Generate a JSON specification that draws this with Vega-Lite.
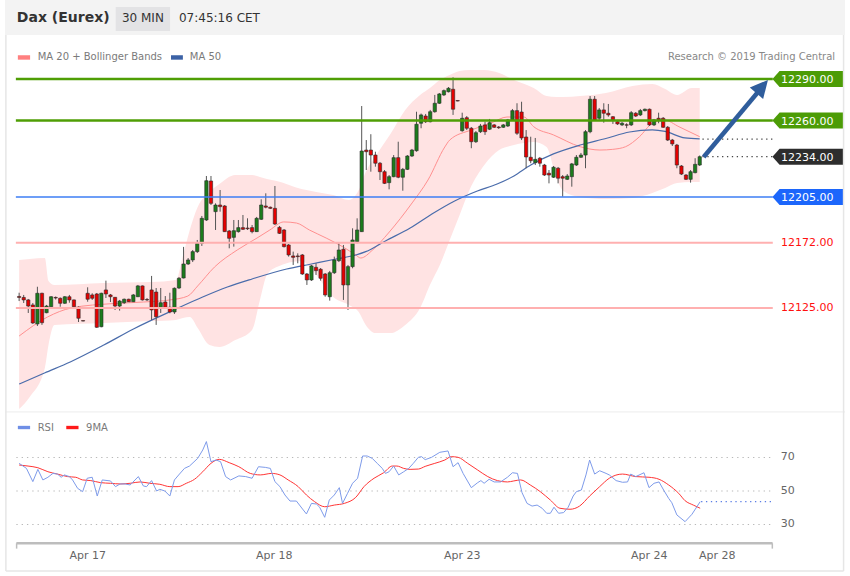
{
"$schema": "https://vega.github.io/schema/vega-lite/v6.json",
"width": 850, "height": 576,
"autosize": {"type": "fit", "contains": "padding"},
"padding": 0,
"background": "#ffffff",
"config": {"font": "DejaVu Sans", "view": {"stroke": null}},
"datasets": {
"one": [{}],
"candles": [
{"i":0,"o":12133.3,"h":12136.0,"l":12130.0,"c":12132.6},
{"i":1,"o":12132.6,"h":12134.4,"l":12128.6,"c":12130.8},
{"i":2,"o":12130.8,"h":12131.5,"l":12121.4,"c":12126.4},
{"i":3,"o":12127.2,"h":12128.6,"l":12113.5,"c":12114.2},
{"i":4,"o":12113.5,"h":12140.3,"l":12112.0,"c":12135.6},
{"i":5,"o":12135.6,"h":12136.0,"l":12112.8,"c":12114.4},
{"i":6,"o":12121.6,"h":12127.2,"l":12121.2,"c":12126.4},
{"i":7,"o":12125.9,"h":12133.6,"l":12125.7,"c":12133.1},
{"i":8,"o":12132.6,"h":12133.3,"l":12131.1,"c":12132.2},
{"i":9,"o":12132.0,"h":12132.6,"l":12125.9,"c":12128.4},
{"i":10,"o":12128.4,"h":12133.6,"l":12127.9,"c":12133.1},
{"i":11,"o":12133.1,"h":12134.4,"l":12128.8,"c":12130.8},
{"i":12,"o":12130.8,"h":12131.1,"l":12124.5,"c":12125.9},
{"i":13,"o":12125.5,"h":12126.1,"l":12114.9,"c":12117.6},
{"i":14,"o":12115.9,"h":12116.0,"l":12115.4,"c":12115.6},
{"i":15,"o":12135.6,"h":12139.9,"l":12129.5,"c":12131.3},
{"i":16,"o":12134.4,"h":12135.6,"l":12130.8,"c":12132.0},
{"i":17,"o":12135.1,"h":12135.8,"l":12110.6,"c":12111.1},
{"i":18,"o":12111.5,"h":12136.0,"l":12111.1,"c":12135.6},
{"i":19,"o":12138.0,"h":12144.7,"l":12132.2,"c":12135.1},
{"i":20,"o":12134.4,"h":12135.1,"l":12129.3,"c":12133.1},
{"i":21,"o":12132.7,"h":12132.9,"l":12123.6,"c":12126.4},
{"i":22,"o":12126.4,"h":12130.8,"l":12123.1,"c":12130.0},
{"i":23,"o":12128.8,"h":12131.8,"l":12127.9,"c":12131.3},
{"i":24,"o":12131.3,"h":12131.7,"l":12129.3,"c":12129.5},
{"i":25,"o":12129.5,"h":12135.1,"l":12129.3,"c":12134.4},
{"i":26,"o":12133.1,"h":12141.6,"l":12132.9,"c":12140.9},
{"i":27,"o":12140.9,"h":12141.2,"l":12130.4,"c":12130.8},
{"i":28,"o":12131.1,"h":12132.2,"l":12130.0,"c":12130.8},
{"i":29,"o":12138.0,"h":12148.1,"l":12116.4,"c":12123.6},
{"i":30,"o":12136.5,"h":12139.4,"l":12112.8,"c":12118.7},
{"i":31,"o":12125.0,"h":12139.4,"l":12121.4,"c":12128.8},
{"i":32,"o":12129.3,"h":12133.6,"l":12124.3,"c":12125.4},
{"i":33,"o":12125.5,"h":12136.0,"l":12121.2,"c":12122.1},
{"i":34,"o":12122.1,"h":12139.8,"l":12120.7,"c":12139.2},
{"i":35,"o":12139.4,"h":12147.3,"l":12138.7,"c":12146.4},
{"i":36,"o":12146.6,"h":12169.0,"l":12146.3,"c":12156.7},
{"i":37,"o":12156.7,"h":12161.0,"l":12156.0,"c":12159.6},
{"i":38,"o":12159.6,"h":12166.8,"l":12158.1,"c":12165.6},
{"i":39,"o":12165.6,"h":12174.0,"l":12164.6,"c":12171.6},
{"i":40,"o":12171.6,"h":12191.3,"l":12169.7,"c":12189.6},
{"i":41,"o":12188.4,"h":12220.1,"l":12187.7,"c":12216.7},
{"i":42,"o":12216.5,"h":12220.1,"l":12199.2,"c":12200.4},
{"i":43,"o":12194.4,"h":12200.4,"l":12181.2,"c":12199.2},
{"i":44,"o":12199.2,"h":12210.0,"l":12194.4,"c":12198.0},
{"i":45,"o":12198.5,"h":12199.2,"l":12179.8,"c":12180.0},
{"i":46,"o":12180.5,"h":12181.2,"l":12168.0,"c":12175.2},
{"i":47,"o":12175.9,"h":12188.4,"l":12169.2,"c":12180.7},
{"i":48,"o":12180.0,"h":12188.4,"l":12179.3,"c":12182.9},
{"i":49,"o":12182.9,"h":12192.0,"l":12181.2,"c":12181.7},
{"i":50,"o":12182.6,"h":12189.6,"l":12181.2,"c":12182.1},
{"i":51,"o":12182.9,"h":12184.8,"l":12178.8,"c":12180.0},
{"i":52,"o":12180.0,"h":12190.6,"l":12179.8,"c":12189.6},
{"i":53,"o":12188.9,"h":12203.3,"l":12188.4,"c":12199.2},
{"i":54,"o":12198.5,"h":12207.6,"l":12196.8,"c":12197.6},
{"i":55,"o":12197.6,"h":12198.1,"l":12196.3,"c":12196.8},
{"i":56,"o":12196.8,"h":12212.9,"l":12184.8,"c":12185.5},
{"i":57,"o":12183.1,"h":12184.1,"l":12178.3,"c":12178.8},
{"i":58,"o":12181.2,"h":12181.9,"l":12168.6,"c":12169.2},
{"i":59,"o":12170.4,"h":12171.1,"l":12162.0,"c":12163.2},
{"i":60,"o":12162.5,"h":12165.6,"l":12156.0,"c":12161.5},
{"i":61,"o":12162.5,"h":12164.4,"l":12157.2,"c":12162.0},
{"i":62,"o":12163.2,"h":12163.9,"l":12148.8,"c":12149.5},
{"i":63,"o":12149.5,"h":12150.2,"l":12141.6,"c":12145.2},
{"i":64,"o":12145.2,"h":12156.0,"l":12144.5,"c":12155.3},
{"i":65,"o":12154.3,"h":12157.2,"l":12148.8,"c":12151.9},
{"i":66,"o":12152.9,"h":12153.8,"l":12144.7,"c":12146.4},
{"i":67,"o":12149.5,"h":12150.2,"l":12133.1,"c":12134.4},
{"i":68,"o":12133.1,"h":12151.7,"l":12130.3,"c":12150.4},
{"i":69,"o":12150.4,"h":12162.0,"l":12149.5,"c":12159.6},
{"i":70,"o":12159.1,"h":12171.6,"l":12158.1,"c":12166.8},
{"i":71,"o":12167.3,"h":12170.4,"l":12130.8,"c":12141.6},
{"i":72,"o":12141.6,"h":12156.0,"l":12123.6,"c":12154.8},
{"i":73,"o":12154.8,"h":12182.4,"l":12153.6,"c":12174.0},
{"i":74,"o":12172.8,"h":12189.6,"l":12171.6,"c":12181.2},
{"i":75,"o":12180.0,"h":12270.5,"l":12179.8,"c":12238.1},
{"i":76,"o":12238.8,"h":12246.0,"l":12224.4,"c":12237.6},
{"i":77,"o":12238.8,"h":12250.2,"l":12223.2,"c":12235.2},
{"i":78,"o":12235.2,"h":12237.6,"l":12226.8,"c":12229.3},
{"i":79,"o":12229.3,"h":12230.2,"l":12217.2,"c":12223.2},
{"i":80,"o":12223.2,"h":12224.4,"l":12214.3,"c":12214.8},
{"i":81,"o":12215.3,"h":12220.8,"l":12210.5,"c":12219.6},
{"i":82,"o":12219.6,"h":12235.2,"l":12219.2,"c":12233.3},
{"i":83,"o":12233.3,"h":12244.8,"l":12218.5,"c":12219.2},
{"i":84,"o":12219.2,"h":12225.9,"l":12209.5,"c":12224.9},
{"i":85,"o":12224.9,"h":12235.2,"l":12224.4,"c":12234.5},
{"i":86,"o":12234.5,"h":12239.6,"l":12233.8,"c":12238.8},
{"i":87,"o":12238.3,"h":12266.4,"l":12237.6,"c":12257.4},
{"i":88,"o":12258.1,"h":12265.1,"l":12254.5,"c":12264.1},
{"i":89,"o":12263.3,"h":12264.8,"l":12258.3,"c":12259.2},
{"i":90,"o":12259.2,"h":12267.7,"l":12258.7,"c":12266.4},
{"i":91,"o":12266.4,"h":12278.5,"l":12265.7,"c":12272.5},
{"i":92,"o":12272.5,"h":12279.9,"l":12272.0,"c":12279.2},
{"i":93,"o":12278.5,"h":12282.4,"l":12277.7,"c":12281.6},
{"i":94,"o":12280.8,"h":12284.2,"l":12280.3,"c":12283.3},
{"i":95,"o":12282.6,"h":12291.2,"l":12264.1,"c":12268.2},
{"i":96,"o":12274.5,"h":12274.6,"l":12273.9,"c":12274.1},
{"i":97,"o":12252.7,"h":12265.7,"l":12252.0,"c":12261.7},
{"i":98,"o":12262.1,"h":12263.3,"l":12253.2,"c":12254.5},
{"i":99,"o":12254.5,"h":12255.4,"l":12240.1,"c":12244.8},
{"i":100,"o":12244.8,"h":12252.5,"l":12243.9,"c":12251.3},
{"i":101,"o":12252.0,"h":12257.6,"l":12251.1,"c":12256.1},
{"i":102,"o":12256.9,"h":12259.2,"l":12249.7,"c":12252.0},
{"i":103,"o":12253.8,"h":12261.2,"l":12253.2,"c":12258.5},
{"i":104,"o":12256.9,"h":12257.6,"l":12254.7,"c":12255.2},
{"i":105,"o":12255.4,"h":12256.1,"l":12254.0,"c":12254.9},
{"i":106,"o":12255.2,"h":12257.6,"l":12254.7,"c":12256.9},
{"i":107,"o":12256.1,"h":12261.2,"l":12255.4,"c":12260.5},
{"i":108,"o":12260.5,"h":12268.4,"l":12259.7,"c":12267.2},
{"i":109,"o":12267.2,"h":12272.5,"l":12249.7,"c":12250.9},
{"i":110,"o":12266.2,"h":12273.6,"l":12246.0,"c":12247.5},
{"i":111,"o":12248.2,"h":12253.2,"l":12225.7,"c":12233.8},
{"i":112,"o":12233.6,"h":12248.4,"l":12229.3,"c":12231.1},
{"i":113,"o":12229.7,"h":12247.5,"l":12228.0,"c":12232.1},
{"i":114,"o":12232.9,"h":12233.8,"l":12226.8,"c":12229.3},
{"i":115,"o":12228.0,"h":12228.8,"l":12220.1,"c":12220.8},
{"i":116,"o":12222.1,"h":12224.4,"l":12214.8,"c":12220.8},
{"i":117,"o":12219.2,"h":12227.3,"l":12218.7,"c":12226.4},
{"i":118,"o":12225.7,"h":12226.6,"l":12214.8,"c":12218.5},
{"i":119,"o":12219.6,"h":12220.8,"l":12205.2,"c":12218.5},
{"i":120,"o":12217.7,"h":12221.5,"l":12217.2,"c":12220.1},
{"i":121,"o":12219.6,"h":12229.5,"l":12212.4,"c":12228.8},
{"i":122,"o":12228.0,"h":12235.2,"l":12227.3,"c":12233.6},
{"i":123,"o":12233.6,"h":12236.7,"l":12233.1,"c":12235.2},
{"i":124,"o":12235.2,"h":12253.2,"l":12225.7,"c":12252.0},
{"i":125,"o":12252.0,"h":12277.7,"l":12250.9,"c":12275.4},
{"i":126,"o":12275.4,"h":12277.7,"l":12259.7,"c":12260.5},
{"i":127,"o":12261.7,"h":12269.1,"l":12260.5,"c":12267.7},
{"i":128,"o":12267.7,"h":12272.5,"l":12258.5,"c":12265.3},
{"i":129,"o":12265.3,"h":12272.0,"l":12262.8,"c":12264.1},
{"i":130,"o":12262.8,"h":12263.3,"l":12257.6,"c":12260.5},
{"i":131,"o":12259.2,"h":12260.5,"l":12256.9,"c":12257.6},
{"i":132,"o":12256.9,"h":12259.0,"l":12256.1,"c":12258.1},
{"i":133,"o":12257.0,"h":12258.1,"l":12254.5,"c":12256.7},
{"i":134,"o":12256.9,"h":12266.9,"l":12256.1,"c":12265.7},
{"i":135,"o":12265.3,"h":12266.2,"l":12262.6,"c":12263.3},
{"i":136,"o":12264.1,"h":12268.4,"l":12263.3,"c":12267.2},
{"i":137,"o":12267.2,"h":12268.7,"l":12266.6,"c":12268.2},
{"i":138,"o":12268.2,"h":12268.7,"l":12256.1,"c":12256.9},
{"i":139,"o":12256.9,"h":12261.2,"l":12256.1,"c":12260.5},
{"i":140,"o":12261.7,"h":12265.7,"l":12258.1,"c":12260.5},
{"i":141,"o":12261.7,"h":12262.6,"l":12254.7,"c":12255.2},
{"i":142,"o":12255.2,"h":12256.1,"l":12245.3,"c":12246.0},
{"i":143,"o":12246.0,"h":12246.8,"l":12241.7,"c":12243.2},
{"i":144,"o":12242.4,"h":12243.2,"l":12225.7,"c":12228.0},
{"i":145,"o":12227.3,"h":12228.0,"l":12220.8,"c":12221.5},
{"i":146,"o":12220.8,"h":12221.5,"l":12217.2,"c":12217.7},
{"i":147,"o":12217.7,"h":12224.4,"l":12215.3,"c":12223.2},
{"i":148,"o":12222.5,"h":12232.9,"l":12222.0,"c":12228.5},
{"i":149,"o":12228.0,"h":12234.9,"l":12227.3,"c":12234.0}
],
"band": [
{"i":0,"up":12159.6,"lo":12052.2},{"i":2.32,"up":12160.3,"lo":12060.9},{"i":5.63,"up":12161.0,"lo":12081.8},
{"i":6.43,"up":12144.5,"lo":12098.3},{"i":7.72,"up":12141.6,"lo":12112.8},{"i":18.54,"up":12143.0,"lo":12114.2},
{"i":28.93,"up":12143.7,"lo":12115.6},{"i":34.34,"up":12145.2,"lo":12116.4},{"i":35.85,"up":12162.5,"lo":12117.8},
{"i":37.36,"up":12181.2,"lo":12118.5},{"i":39.09,"up":12197.8,"lo":12110.6},{"i":41.69,"up":12208.6,"lo":12098.3},
{"i":43.85,"up":12214.3,"lo":12096.9},{"i":47.32,"up":12220.8,"lo":12101.9},{"i":50.99,"up":12220.8,"lo":12109.2},
{"i":52.72,"up":12219.4,"lo":12130.8},{"i":54.24,"up":12218.0,"lo":12148.8},{"i":56.4,"up":12216.5,"lo":12154.5},
{"i":61.81,"up":12210.7,"lo":12158.9},{"i":65.06,"up":12208.6,"lo":12148.8},{"i":68.74,"up":12206.4,"lo":12132.9},
{"i":72.2,"up":12202.8,"lo":12127.2},{"i":74.36,"up":12210.0,"lo":12122.1},{"i":75.88,"up":12223.0,"lo":12112.8},
{"i":78.04,"up":12234.5,"lo":12107.0},{"i":81.29,"up":12250.4,"lo":12107.0},{"i":84.53,"up":12267.7,"lo":12112.8},
{"i":87.78,"up":12278.5,"lo":12125.0},{"i":89.94,"up":12283.5,"lo":12141.6},{"i":92.11,"up":12289.3,"lo":12156.0},
{"i":94.27,"up":12292.9,"lo":12174.0},{"i":96.44,"up":12295.8,"lo":12192.0},{"i":98.6,"up":12296.5,"lo":12210.0},
{"i":101.84,"up":12296.5,"lo":12228.0},{"i":105.09,"up":12294.3,"lo":12238.8},{"i":108.33,"up":12289.3,"lo":12242.4},
{"i":112.66,"up":12283.5,"lo":12244.6},{"i":115.47,"up":12277.7,"lo":12241.0},{"i":117.64,"up":12277.0,"lo":12218.7},
{"i":119.15,"up":12277.0,"lo":12209.3},{"i":122.83,"up":12277.7,"lo":12205.0},{"i":128.46,"up":12279.9,"lo":12203.5},
{"i":134.3,"up":12285.0,"lo":12204.3},{"i":138.62,"up":12286.4,"lo":12207.9},{"i":141.44,"up":12282.8,"lo":12211.5},
{"i":144.04,"up":12278.5,"lo":12215.1},{"i":147.28,"up":12283.5,"lo":12215.8},{"i":149,"up":12283.5,"lo":12215.8}
],
"ma20": [
{"i":0,"v":12104.8},{"i":6.21,"v":12118.5},{"i":11.4,"v":12125.0},{"i":20.7,"v":12128.2},{"i":27.2,"v":12129.3},
{"i":33.04,"v":12130.8},{"i":36.93,"v":12133.6},{"i":39.1,"v":12140.9},{"i":42.77,"v":12154.5},{"i":47.75,"v":12166.8},
{"i":52.08,"v":12175.4},{"i":54.89,"v":12181.2},{"i":57.92,"v":12187.0},{"i":60.73,"v":12186.2},{"i":63.54,"v":12181.2},
{"i":67.22,"v":12175.4},{"i":70.9,"v":12169.0},{"i":73.71,"v":12163.2},{"i":74.79,"v":12161.0},{"i":77.39,"v":12166.8},
{"i":80.85,"v":12179.0},{"i":86.04,"v":12200.7},{"i":89.51,"v":12217.2},{"i":93.19,"v":12241.0},{"i":94.27,"v":12246.0},
{"i":99.03,"v":12253.3},{"i":103.36,"v":12258.3},{"i":106.82,"v":12262.6},{"i":110.5,"v":12262.6},{"i":112.66,"v":12255.6},
{"i":116.98,"v":12249.7},{"i":122.83,"v":12241.2},{"i":127.15,"v":12238.8},{"i":129.96,"v":12239.3},{"i":132.78,"v":12241.2},
{"i":135.81,"v":12248.4},{"i":138.62,"v":12258.1},{"i":141.21,"v":12260.5},{"i":144.46,"v":12255.6},{"i":149,"v":12248.4}
],
"ma50": [
{"i":0,"v":12070.2},{"i":5.56,"v":12078.2},{"i":11.19,"v":12086.1},{"i":18.54,"v":12098.3},{"i":25.03,"v":12109.9},
{"i":34.34,"v":12124.3},{"i":40.18,"v":12132.9},{"i":45.59,"v":12140.1},{"i":51.0,"v":12145.9},{"i":58.57,"v":12153.1},
{"i":63.98,"v":12156.7},{"i":69.39,"v":12160.3},{"i":73.71,"v":12163.2},{"i":75.88,"v":12165.6},{"i":80.2,"v":12173.3},
{"i":85.61,"v":12182.6},{"i":90.37,"v":12192.7},{"i":95.35,"v":12202.1},{"i":100.32,"v":12209.3},{"i":104.65,"v":12214.3},
{"i":108.33,"v":12220.1},{"i":112.01,"v":12228.0},{"i":116.98,"v":12236.0},{"i":122.83,"v":12242.4},{"i":128.45,"v":12247.1},
{"i":133.64,"v":12251.8},{"i":138.62,"v":12253.3},{"i":141.43,"v":12252.2},{"i":145.76,"v":12247.5},{"i":149,"v":12246.8}
],
"levels": [
{"price":12290,"kind":"res"},{"price":12260,"kind":"res"},{"price":12246.7,"kind":"ma"},{"price":12234,"kind":"last"},
{"price":12205,"kind":"pivot"},{"price":12172,"kind":"sup"},{"price":12125,"kind":"sup"}
],
"rsi": [
{"i":0,"v":66.5},{"i":1.6,"v":63.5},{"i":3.0,"v":55.6},{"i":4.1,"v":62.9},{"i":5.2,"v":56.6},{"i":6.3,"v":58.2},
{"i":7.4,"v":60.5},{"i":8.4,"v":60.1},{"i":9.2,"v":58.2},{"i":9.9,"v":59.6},{"i":11.0,"v":58.6},{"i":11.7,"v":56.6},
{"i":12.8,"v":51.6},{"i":13.9,"v":49.6},{"i":14.9,"v":57.6},{"i":16.0,"v":58.2},{"i":17.1,"v":47.0},{"i":18.2,"v":56.6},
{"i":20.0,"v":56.0},{"i":21.1,"v":52.6},{"i":22.1,"v":54.2},{"i":23.2,"v":54.2},{"i":24.3,"v":53.6},{"i":26.1,"v":58.6},
{"i":27.2,"v":53.0},{"i":27.9,"v":52.6},{"i":29.0,"v":56.2},{"i":30.1,"v":50.0},{"i":30.8,"v":51.0},{"i":31.9,"v":50.0},
{"i":33.0,"v":47.0},{"i":34.0,"v":56.6},{"i":35.1,"v":60.1},{"i":36.2,"v":63.5},{"i":37.3,"v":64.9},{"i":39.1,"v":69.5},
{"i":40.2,"v":74.5},{"i":41.0,"v":79.5},{"i":42.0,"v":67.5},{"i":43.1,"v":68.5},{"i":44.1,"v":67.5},{"i":45.2,"v":58.6},
{"i":46.3,"v":56.6},{"i":48.1,"v":59.0},{"i":49.6,"v":58.6},{"i":51.0,"v":57.6},{"i":52.4,"v":64.5},{"i":53.9,"v":64.1},
{"i":55.0,"v":63.5},{"i":56.0,"v":55.6},{"i":57.1,"v":52.6},{"i":58.2,"v":47.6},{"i":59.3,"v":44.0},{"i":60.7,"v":44.0},
{"i":62.2,"v":38.7},{"i":62.9,"v":36.3},{"i":64.0,"v":42.6},{"i":65.1,"v":42.2},{"i":65.8,"v":40.3},{"i":66.9,"v":34.3},
{"i":67.9,"v":44.6},{"i":69.0,"v":47.6},{"i":70.1,"v":52.0},{"i":70.8,"v":42.6},{"i":71.9,"v":48.6},{"i":73.0,"v":54.6},
{"i":74.1,"v":57.6},{"i":75.2,"v":70.9},{"i":76.2,"v":70.9},{"i":77.3,"v":69.5},{"i":78.4,"v":66.5},{"i":79.5,"v":63.5},
{"i":80.2,"v":60.5},{"i":81.0,"v":61.5},{"i":82.0,"v":64.9},{"i":83.1,"v":59.6},{"i":84.2,"v":61.5},{"i":85.3,"v":63.5},
{"i":86.3,"v":66.5},{"i":87.4,"v":70.1},{"i":88.1,"v":70.5},{"i":88.9,"v":68.7},{"i":90.3,"v":70.1},{"i":92.1,"v":73.1},
{"i":93.9,"v":73.9},{"i":95.0,"v":64.5},{"i":96.1,"v":66.9},{"i":97.2,"v":60.5},{"i":99.0,"v":52.0},{"i":100.4,"v":55.0},
{"i":101.1,"v":56.2},{"i":101.8,"v":54.6},{"i":102.9,"v":57.0},{"i":104.0,"v":55.4},{"i":105.4,"v":55.4},{"i":106.9,"v":58.2},
{"i":108.0,"v":60.9},{"i":109.1,"v":60.5},{"i":110.1,"v":49.0},{"i":111.2,"v":42.6},{"i":112.3,"v":41.0},{"i":113.4,"v":41.6},
{"i":114.5,"v":39.7},{"i":115.5,"v":36.7},{"i":116.3,"v":36.7},{"i":117.1,"v":40.3},{"i":118.1,"v":36.7},{"i":119.2,"v":37.1},
{"i":120.2,"v":40.3},{"i":121.3,"v":47.0},{"i":122.0,"v":49.6},{"i":123.1,"v":50.6},{"i":124.1,"v":59.6},{"i":124.9,"v":68.5},
{"i":126.0,"v":60.1},{"i":127.1,"v":62.1},{"i":128.5,"v":60.5},{"i":129.2,"v":59.6},{"i":130.7,"v":56.2},{"i":132.1,"v":55.2},
{"i":133.2,"v":55.4},{"i":133.9,"v":60.1},{"i":135.0,"v":58.6},{"i":136.8,"v":60.9},{"i":137.9,"v":52.0},{"i":139.0,"v":54.6},
{"i":140.1,"v":55.4},{"i":141.1,"v":50.6},{"i":142.2,"v":45.6},{"i":142.9,"v":43.0},{"i":144.0,"v":35.7},{"i":145.8,"v":31.7},
{"i":147.3,"v":36.1},{"i":149.1,"v":43.6}
],
"ma9": [
{"i":0,"v":65.5},{"i":1.95,"v":64.9},{"i":4.1,"v":63.9},{"i":6.3,"v":61.5},{"i":8.4,"v":60.1},{"i":10.6,"v":58.6},
{"i":12.4,"v":58.2},{"i":13.9,"v":56.6},{"i":15.7,"v":56.2},{"i":17.8,"v":55.0},{"i":20.0,"v":54.6},{"i":22.1,"v":54.2},
{"i":24.3,"v":54.6},{"i":26.5,"v":55.4},{"i":28.6,"v":54.6},{"i":30.8,"v":54.0},{"i":33.0,"v":52.6},{"i":34.8,"v":52.6},
{"i":36.6,"v":54.6},{"i":38.4,"v":57.0},{"i":40.2,"v":61.5},{"i":42.0,"v":66.5},{"i":43.8,"v":68.9},{"i":46.0,"v":66.9},
{"i":48.1,"v":64.5},{"i":50.6,"v":60.5},{"i":52.8,"v":59.6},{"i":55.3,"v":60.5},{"i":57.1,"v":59.6},{"i":58.9,"v":56.6},
{"i":61.1,"v":52.6},{"i":62.9,"v":47.6},{"i":64.7,"v":43.6},{"i":66.9,"v":40.6},{"i":69.0,"v":41.6},{"i":71.2,"v":42.6},
{"i":73.7,"v":46.2},{"i":75.5,"v":52.6},{"i":77.7,"v":57.6},{"i":79.8,"v":60.9},{"i":81.7,"v":64.9},{"i":82.7,"v":64.9},
{"i":84.2,"v":63.5},{"i":85.6,"v":62.9},{"i":87.4,"v":63.1},{"i":88.9,"v":64.7},{"i":91.0,"v":66.5},{"i":93.2,"v":68.5},
{"i":94.6,"v":70.5},{"i":96.1,"v":70.1},{"i":98.2,"v":66.5},{"i":100.4,"v":62.5},{"i":102.6,"v":58.6},{"i":104.7,"v":56.2},
{"i":106.9,"v":55.4},{"i":108.3,"v":56.0},{"i":109.8,"v":56.6},{"i":111.9,"v":53.6},{"i":114.1,"v":49.6},{"i":116.3,"v":44.6},
{"i":118.4,"v":39.7},{"i":120.6,"v":39.1},{"i":122.7,"v":41.0},{"i":124.9,"v":47.0},{"i":127.1,"v":52.6},{"i":129.2,"v":57.6},
{"i":132.1,"v":60.1},{"i":135.0,"v":58.6},{"i":137.9,"v":58.2},{"i":140.1,"v":57.0},{"i":142.2,"v":53.6},{"i":144.4,"v":48.6},
{"i":145.8,"v":44.2},{"i":147.6,"v":41.6},{"i":149.1,"v":39.7}
],
"rsiGrid": [{"v":70},{"v":50},{"v":30}],
"dates": [{"date":"Apr 17","i":15.0},{"date":"Apr 18","i":55.86},{"date":"Apr 23","i":97.01},{"date":"Apr 24","i":137.97},{"date":"Apr 28","i":152.86}]
},
"resolve": {"scale": {"y": "independent"}},
"layer": [
{
"layer": [
{"data": {"name": "one"}, "mark": {"type": "rect", "fill": "#f3f3f3"},
 "encoding": {"x": {"datum": -3.094, "type": "quantitative", "scale": {"domain": [-3.094, 180.81], "nice": false, "zero": false}, "axis": null}, "x2": {"datum": 180.81},
  "y": {"datum": 12321.7, "type": "quantitative", "scale": {"domain": [11931.9, 12346.9], "nice": false, "zero": false}, "axis": null}, "y2": {"datum": 12346.9}}},
{"data": {"name": "one"}, "mark": {"type": "rect", "fill": "#e3e3e5"},
 "encoding": {"x": {"datum": 21.14, "type": "quantitative", "scale": {"domain": [-3.094, 180.81], "nice": false, "zero": false}, "axis": null}, "x2": {"datum": 33.04},
  "y": {"datum": 12324.6, "type": "quantitative", "scale": {"domain": [11931.9, 12346.9], "nice": false, "zero": false}, "axis": null}, "y2": {"datum": 12341.9}}},
{"data": {"name": "one"}, "mark": {"type": "text", "text": "Dax (Eurex)", "align": "left", "baseline": "middle", "fontSize": 14, "fontWeight": "bold", "fill": "#333333"},
 "encoding": {"x": {"datum": -0.5, "type": "quantitative", "scale": {"domain": [-3.094, 180.81], "nice": false, "zero": false}, "axis": null},
  "y": {"datum": 12333.9, "type": "quantitative", "scale": {"domain": [11931.9, 12346.9], "nice": false, "zero": false}, "axis": null}}},
{"data": {"name": "one"}, "mark": {"type": "text", "text": "30 MIN", "align": "center", "baseline": "middle", "fontSize": 12, "fill": "#333333"},
 "encoding": {"x": {"datum": 27.09, "type": "quantitative", "scale": {"domain": [-3.094, 180.81], "nice": false, "zero": false}, "axis": null},
  "y": {"datum": 12333.6, "type": "quantitative", "scale": {"domain": [11931.9, 12346.9], "nice": false, "zero": false}, "axis": null}}},
{"data": {"name": "one"}, "mark": {"type": "text", "text": "07:45:16 CET", "align": "left", "baseline": "middle", "fontSize": 12, "fill": "#333333"},
 "encoding": {"x": {"datum": 34.99, "type": "quantitative", "scale": {"domain": [-3.094, 180.81], "nice": false, "zero": false}, "axis": null},
  "y": {"datum": 12333.6, "type": "quantitative", "scale": {"domain": [11931.9, 12346.9], "nice": false, "zero": false}, "axis": null}}},
{"data": {"name": "one"}, "mark": {"type": "rect", "fill": "#ff8080"},
 "encoding": {"x": {"datum": -0.28, "type": "quantitative", "scale": {"domain": [-3.094, 180.81], "nice": false, "zero": false}, "axis": null}, "x2": {"datum": 2.4},
  "y": {"datum": 12303.9, "type": "quantitative", "scale": {"domain": [11931.9, 12346.9], "nice": false, "zero": false}, "axis": null}, "y2": {"datum": 12307.1}}},
{"data": {"name": "one"}, "mark": {"type": "text", "text": "MA 20 + Bollinger Bands", "align": "left", "baseline": "middle", "fontSize": 10, "fill": "#7a7a7a"},
 "encoding": {"x": {"datum": 4.05, "type": "quantitative", "scale": {"domain": [-3.094, 180.81], "nice": false, "zero": false}, "axis": null},
  "y": {"datum": 12305.5, "type": "quantitative", "scale": {"domain": [11931.9, 12346.9], "nice": false, "zero": false}, "axis": null}}},
{"data": {"name": "one"}, "mark": {"type": "rect", "fill": "#3c62a6"},
 "encoding": {"x": {"datum": 33.25, "type": "quantitative", "scale": {"domain": [-3.094, 180.81], "nice": false, "zero": false}, "axis": null}, "x2": {"datum": 35.85},
  "y": {"datum": 12303.9, "type": "quantitative", "scale": {"domain": [11931.9, 12346.9], "nice": false, "zero": false}, "axis": null}, "y2": {"datum": 12307.1}}},
{"data": {"name": "one"}, "mark": {"type": "text", "text": "MA 50", "align": "left", "baseline": "middle", "fontSize": 10, "fill": "#7a7a7a"},
 "encoding": {"x": {"datum": 37.36, "type": "quantitative", "scale": {"domain": [-3.094, 180.81], "nice": false, "zero": false}, "axis": null},
  "y": {"datum": 12305.5, "type": "quantitative", "scale": {"domain": [11931.9, 12346.9], "nice": false, "zero": false}, "axis": null}}},
{"data": {"name": "one"}, "mark": {"type": "text", "text": "Research © 2019 Trading Central", "align": "right", "baseline": "middle", "fontSize": 10, "fill": "#888888"},
 "encoding": {"x": {"datum": 178.64, "type": "quantitative", "scale": {"domain": [-3.094, 180.81], "nice": false, "zero": false}, "axis": null},
  "y": {"datum": 12305.5, "type": "quantitative", "scale": {"domain": [11931.9, 12346.9], "nice": false, "zero": false}, "axis": null}}},
{"data": {"name": "band"}, "mark": {"type": "area", "fill": "#ffe3e3", "interpolate": "monotone"},
 "encoding": {"x": {"field": "i", "type": "quantitative", "scale": {"domain": [-3.094, 180.81], "nice": false, "zero": false}, "axis": null},
  "y": {"field": "up", "type": "quantitative", "scale": {"domain": [11931.9, 12346.9], "nice": false, "zero": false}, "axis": null}, "y2": {"field": "lo"}}},
{"data": {"name": "ma20"}, "mark": {"type": "line", "stroke": "#ff9090", "strokeWidth": 1, "interpolate": "monotone"},
 "encoding": {"x": {"field": "i", "type": "quantitative", "scale": {"domain": [-3.094, 180.81], "nice": false, "zero": false}, "axis": null},
  "y": {"field": "v", "type": "quantitative", "scale": {"domain": [11931.9, 12346.9], "nice": false, "zero": false}, "axis": null}}},
{"data": {"name": "ma50"}, "mark": {"type": "line", "stroke": "#4a6cab", "strokeWidth": 1.2, "interpolate": "monotone"},
 "encoding": {"x": {"field": "i", "type": "quantitative", "scale": {"domain": [-3.094, 180.81], "nice": false, "zero": false}, "axis": null},
  "y": {"field": "v", "type": "quantitative", "scale": {"domain": [11931.9, 12346.9], "nice": false, "zero": false}, "axis": null}}},
{"data": {"name": "candles"}, "mark": {"type": "rule", "stroke": "#555555", "strokeWidth": 1},
 "encoding": {"x": {"field": "i", "type": "quantitative", "scale": {"domain": [-3.094, 180.81], "nice": false, "zero": false}, "axis": null},
  "y": {"field": "l", "type": "quantitative", "scale": {"domain": [11931.9, 12346.9], "nice": false, "zero": false}, "axis": null}, "y2": {"field": "h"}}},
{"data": {"name": "candles"}, "mark": {"type": "bar", "size": 3.3, "stroke": "#2a2a2a", "strokeWidth": 0.6},
 "encoding": {"x": {"field": "i", "type": "quantitative", "scale": {"domain": [-3.094, 180.81], "nice": false, "zero": false}, "axis": null},
  "y": {"field": "o", "type": "quantitative", "scale": {"domain": [11931.9, 12346.9], "nice": false, "zero": false}, "axis": null}, "y2": {"field": "c"},
  "fill": {"condition": {"test": "datum.c >= datum.o", "value": "#1c7c1c"}, "value": "#e50000"}}},
{"data": {"name": "levels"}, "transform": [{"filter": "datum.kind === 'sup'"}], "mark": {"type": "rule", "stroke": "#ffb0b0", "strokeWidth": 2},
 "encoding": {"x": {"datum": -0.714, "type": "quantitative", "scale": {"domain": [-3.094, 180.81], "nice": false, "zero": false}, "axis": null}, "x2": {"datum": 165.0},
  "y": {"field": "price", "type": "quantitative", "scale": {"domain": [11931.9, 12346.9], "nice": false, "zero": false}, "axis": null}}},
{"data": {"name": "levels"}, "transform": [{"filter": "datum.kind === 'pivot'"}], "mark": {"type": "rule", "stroke": "#3d7ef5", "strokeWidth": 1.6},
 "encoding": {"x": {"datum": -0.714, "type": "quantitative", "scale": {"domain": [-3.094, 180.81], "nice": false, "zero": false}, "axis": null}, "x2": {"datum": 165.0},
  "y": {"field": "price", "type": "quantitative", "scale": {"domain": [11931.9, 12346.9], "nice": false, "zero": false}, "axis": null}}},
{"data": {"name": "levels"}, "transform": [{"filter": "datum.kind === 'res'"}], "mark": {"type": "rule", "stroke": "#4f9e05", "strokeWidth": 2.5},
 "encoding": {"x": {"datum": -0.714, "type": "quantitative", "scale": {"domain": [-3.094, 180.81], "nice": false, "zero": false}, "axis": null}, "x2": {"datum": 165.0},
  "y": {"field": "price", "type": "quantitative", "scale": {"domain": [11931.9, 12346.9], "nice": false, "zero": false}, "axis": null}}},
{"data": {"name": "levels"}, "transform": [{"filter": "datum.kind === 'last' || datum.kind === 'ma'"}], "mark": {"type": "rule", "stroke": "#444444", "strokeWidth": 1.2, "strokeDash": [1.3, 3.6]},
 "encoding": {"x": {"datum": 149.6, "type": "quantitative", "scale": {"domain": [-3.094, 180.81], "nice": false, "zero": false}, "axis": null}, "x2": {"datum": 165.0},
  "y": {"field": "price", "type": "quantitative", "scale": {"domain": [11931.9, 12346.9], "nice": false, "zero": false}, "axis": null}}},
{"data": {"name": "levels"}, "transform": [{"filter": "datum.kind === 'res' || datum.kind === 'pivot' || datum.kind === 'last'"}],
 "mark": {"type": "point", "shape": "M-1,0L-0.8,-0.224L1,-0.224L1,0.224L-0.8,0.224Z", "size": 5112, "filled": true, "opacity": 1, "strokeWidth": 0},
 "encoding": {"x": {"datum": 172.75, "type": "quantitative", "scale": {"domain": [-3.094, 180.81], "nice": false, "zero": false}, "axis": null},
  "y": {"field": "price", "type": "quantitative", "scale": {"domain": [11931.9, 12346.9], "nice": false, "zero": false}, "axis": null},
  "fill": {"field": "kind", "type": "nominal", "scale": {"domain": ["res", "pivot", "last"], "range": ["#4c9c06", "#1c66fb", "#2d2d2d"]}, "legend": null}}},
{"data": {"name": "levels"}, "transform": [{"filter": "datum.kind === 'res' || datum.kind === 'pivot' || datum.kind === 'last'"}],
 "mark": {"type": "text", "align": "center", "baseline": "middle", "fontSize": 11, "fill": "#ffffff", "dx": -1, "dy": 1},
 "encoding": {"x": {"datum": 172.75, "type": "quantitative", "scale": {"domain": [-3.094, 180.81], "nice": false, "zero": false}, "axis": null},
  "y": {"field": "price", "type": "quantitative", "scale": {"domain": [11931.9, 12346.9], "nice": false, "zero": false}, "axis": null},
  "text": {"field": "price", "type": "quantitative", "format": ".2f"}}},
{"data": {"name": "levels"}, "transform": [{"filter": "datum.kind === 'sup'"}],
 "mark": {"type": "text", "align": "center", "baseline": "middle", "fontSize": 11, "fill": "#ff1010", "dx": -1},
 "encoding": {"x": {"datum": 172.75, "type": "quantitative", "scale": {"domain": [-3.094, 180.81], "nice": false, "zero": false}, "axis": null},
  "y": {"field": "price", "type": "quantitative", "scale": {"domain": [11931.9, 12346.9], "nice": false, "zero": false}, "axis": null},
  "text": {"field": "price", "type": "quantitative", "format": ".2f"}}},
{"data": {"name": "one"}, "mark": {"type": "rule", "stroke": "#2f5d9c", "strokeWidth": 4.5},
 "encoding": {"x": {"datum": 149.87, "type": "quantitative", "scale": {"domain": [-3.094, 180.81], "nice": false, "zero": false}, "axis": null}, "x2": {"datum": 161.77},
  "y": {"datum": 12233.8, "type": "quantitative", "scale": {"domain": [11931.9, 12346.9], "nice": false, "zero": false}, "axis": null}, "y2": {"datum": 12280.6}}},
{"data": {"name": "one"}, "mark": {"type": "point", "shape": "M0,-1L0.8,0.6L-0.8,0.6Z", "size": 484, "angle": 40.8, "filled": true, "fill": "#2f5d9c", "opacity": 1, "strokeWidth": 0},
 "encoding": {"x": {"datum": 162.37, "type": "quantitative", "scale": {"domain": [-3.094, 180.81], "nice": false, "zero": false}, "axis": null},
  "y": {"datum": 12283.3, "type": "quantitative", "scale": {"domain": [11931.9, 12346.9], "nice": false, "zero": false}, "axis": null}}},
{"data": {"name": "one"}, "mark": {"type": "rule", "stroke": "#ececec", "strokeWidth": 1},
 "encoding": {"x": {"datum": -3.094, "type": "quantitative", "scale": {"domain": [-3.094, 180.81], "nice": false, "zero": false}, "axis": null}, "x2": {"datum": 180.81},
  "y": {"datum": 12050.1, "type": "quantitative", "scale": {"domain": [11931.9, 12346.9], "nice": false, "zero": false}, "axis": null}}},
{"data": {"name": "one"}, "mark": {"type": "rule", "stroke": "#e6e6e6", "strokeWidth": 1.5},
 "encoding": {"x": {"datum": -2.9, "type": "quantitative", "scale": {"domain": [-3.094, 180.81], "nice": false, "zero": false}, "axis": null},
  "y": {"datum": 11935.5, "type": "quantitative", "scale": {"domain": [11931.9, 12346.9], "nice": false, "zero": false}, "axis": null}, "y2": {"datum": 12321.7}}},
{"data": {"name": "one"}, "mark": {"type": "rule", "stroke": "#e6e6e6", "strokeWidth": 1.5},
 "encoding": {"x": {"datum": 180.5, "type": "quantitative", "scale": {"domain": [-3.094, 180.81], "nice": false, "zero": false}, "axis": null},
  "y": {"datum": 11935.5, "type": "quantitative", "scale": {"domain": [11931.9, 12346.9], "nice": false, "zero": false}, "axis": null}, "y2": {"datum": 12321.7}}},
{"data": {"name": "one"}, "mark": {"type": "rule", "stroke": "#e6e6e6", "strokeWidth": 1.5},
 "encoding": {"x": {"datum": -2.9, "type": "quantitative", "scale": {"domain": [-3.094, 180.81], "nice": false, "zero": false}, "axis": null}, "x2": {"datum": 180.5},
  "y": {"datum": 11935.5, "type": "quantitative", "scale": {"domain": [11931.9, 12346.9], "nice": false, "zero": false}, "axis": null}}}
]
},
{
"layer": [
{"data": {"name": "one"}, "mark": {"type": "rect", "fill": "#6f8fe6"},
 "encoding": {"x": {"datum": -0.28, "type": "quantitative", "scale": {"domain": [-3.094, 180.81], "nice": false, "zero": false}, "axis": null}, "x2": {"datum": 2.4},
  "y": {"datum": 86.9, "type": "quantitative", "scale": {"domain": [-0.75, 343.13], "nice": false, "zero": false}, "axis": null}, "y2": {"datum": 88.9}}},
{"data": {"name": "one"}, "mark": {"type": "text", "text": "RSI", "align": "left", "baseline": "middle", "fontSize": 10, "fill": "#7a7a7a"},
 "encoding": {"x": {"datum": 4.05, "type": "quantitative", "scale": {"domain": [-3.094, 180.81], "nice": false, "zero": false}, "axis": null},
  "y": {"datum": 87.9, "type": "quantitative", "scale": {"domain": [-0.75, 343.13], "nice": false, "zero": false}, "axis": null}}},
{"data": {"name": "one"}, "mark": {"type": "rect", "fill": "#ff1a1a"},
 "encoding": {"x": {"datum": 10.32, "type": "quantitative", "scale": {"domain": [-3.094, 180.81], "nice": false, "zero": false}, "axis": null}, "x2": {"datum": 13.0},
  "y": {"datum": 86.9, "type": "quantitative", "scale": {"domain": [-0.75, 343.13], "nice": false, "zero": false}, "axis": null}, "y2": {"datum": 88.9}}},
{"data": {"name": "one"}, "mark": {"type": "text", "text": "9MA", "align": "left", "baseline": "middle", "fontSize": 10, "fill": "#7a7a7a"},
 "encoding": {"x": {"datum": 14.65, "type": "quantitative", "scale": {"domain": [-3.094, 180.81], "nice": false, "zero": false}, "axis": null},
  "y": {"datum": 87.9, "type": "quantitative", "scale": {"domain": [-0.75, 343.13], "nice": false, "zero": false}, "axis": null}}},
{"data": {"name": "rsiGrid"}, "mark": {"type": "rule", "stroke": "#b8b8b8", "strokeWidth": 1.2, "strokeDash": [1.3, 4]},
 "encoding": {"x": {"datum": -0.606, "type": "quantitative", "scale": {"domain": [-3.094, 180.81], "nice": false, "zero": false}, "axis": null}, "x2": {"datum": 164.95},
  "y": {"field": "v", "type": "quantitative", "scale": {"domain": [-0.75, 343.13], "nice": false, "zero": false}, "axis": null}}},
{"data": {"name": "rsiGrid"}, "mark": {"type": "text", "align": "left", "baseline": "middle", "fontSize": 11, "fill": "#666666"},
 "encoding": {"x": {"datum": 166.75, "type": "quantitative", "scale": {"domain": [-3.094, 180.81], "nice": false, "zero": false}, "axis": null},
  "y": {"field": "v", "type": "quantitative", "scale": {"domain": [-0.75, 343.13], "nice": false, "zero": false}, "axis": null},
  "text": {"field": "v", "type": "quantitative"}}},
{"data": {"name": "one"}, "mark": {"type": "rule", "stroke": "#bdbdbd", "strokeWidth": 2.5},
 "encoding": {"x": {"datum": -0.606, "type": "quantitative", "scale": {"domain": [-3.094, 180.81], "nice": false, "zero": false}, "axis": null}, "x2": {"datum": 164.95},
  "y": {"datum": 18.78, "type": "quantitative", "scale": {"domain": [-0.75, 343.13], "nice": false, "zero": false}, "axis": null}}},
{"data": {"name": "one"}, "mark": {"type": "rule", "stroke": "#bdbdbd", "strokeWidth": 1.5},
 "encoding": {"x": {"datum": -0.55, "type": "quantitative", "scale": {"domain": [-3.094, 180.81], "nice": false, "zero": false}, "axis": null},
  "y": {"datum": 18.78, "type": "quantitative", "scale": {"domain": [-0.75, 343.13], "nice": false, "zero": false}, "axis": null}, "y2": {"datum": 15.6}}},
{"data": {"name": "one"}, "mark": {"type": "rule", "stroke": "#bdbdbd", "strokeWidth": 1.5},
 "encoding": {"x": {"datum": 164.9, "type": "quantitative", "scale": {"domain": [-3.094, 180.81], "nice": false, "zero": false}, "axis": null},
  "y": {"datum": 18.78, "type": "quantitative", "scale": {"domain": [-0.75, 343.13], "nice": false, "zero": false}, "axis": null}, "y2": {"datum": 15.6}}},
{"data": {"name": "dates"}, "mark": {"type": "text", "align": "center", "baseline": "middle", "fontSize": 11, "fill": "#666666"},
 "encoding": {"x": {"field": "i", "type": "quantitative", "scale": {"domain": [-3.094, 180.81], "nice": false, "zero": false}, "axis": null},
  "y": {"datum": 11.19, "type": "quantitative", "scale": {"domain": [-0.75, 343.13], "nice": false, "zero": false}, "axis": null},
  "text": {"field": "date", "type": "nominal"}}},
{"data": {"name": "ma9"}, "mark": {"type": "line", "stroke": "#ff3535", "strokeWidth": 1, "interpolate": "monotone"},
 "encoding": {"x": {"field": "i", "type": "quantitative", "scale": {"domain": [-3.094, 180.81], "nice": false, "zero": false}, "axis": null},
  "y": {"field": "v", "type": "quantitative", "scale": {"domain": [-0.75, 343.13], "nice": false, "zero": false}, "axis": null}}},
{"data": {"name": "rsi"}, "mark": {"type": "line", "stroke": "#7e9bea", "strokeWidth": 1},
 "encoding": {"x": {"field": "i", "type": "quantitative", "scale": {"domain": [-3.094, 180.81], "nice": false, "zero": false}, "axis": null},
  "y": {"field": "v", "type": "quantitative", "scale": {"domain": [-0.75, 343.13], "nice": false, "zero": false}, "axis": null}}},
{"data": {"name": "one"}, "mark": {"type": "rule", "stroke": "#5b7ee5", "strokeWidth": 1.3, "strokeDash": [1.3, 3.6]},
 "encoding": {"x": {"datum": 149.3, "type": "quantitative", "scale": {"domain": [-3.094, 180.81], "nice": false, "zero": false}, "axis": null}, "x2": {"datum": 164.95},
  "y": {"datum": 43.6, "type": "quantitative", "scale": {"domain": [-0.75, 343.13], "nice": false, "zero": false}, "axis": null}}}
]
}
]
}
